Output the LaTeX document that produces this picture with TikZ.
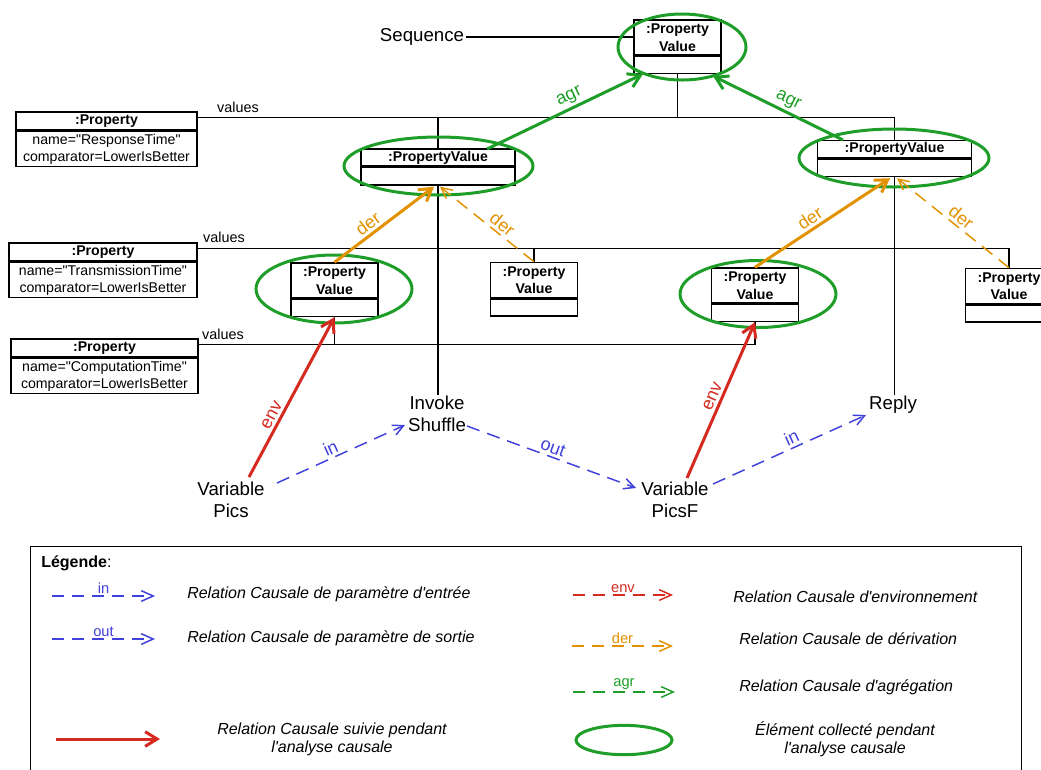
\documentclass[tikz,border=0pt]{standalone}
\usepackage{fontspec}
\setmainfont{Liberation Sans}[Ligatures=TeXOff]
\usetikzlibrary{arrows.meta,shapes.geometric,calc}
\definecolor{cgreen}{RGB}{30,158,40}
\definecolor{corange}{RGB}{226,145,0}
\definecolor{cred}{RGB}{212,42,32}
\definecolor{cblue}{RGB}{64,64,218}
\tikzset{
  umlbox/.style={draw, line width=1.1pt, fill=white, inner sep=1pt, align=center, font=\fontsize{10.6}{13.2}\selectfont\bfseries},
  pvt/.style={umlbox, minimum width=65.25pt, minimum height=26.25pt},
  pvb/.style={draw, line width=1.1pt, fill=white, minimum width=65.25pt, minimum height=12.75pt, inner sep=0pt, anchor=north},
  pvwt/.style={umlbox, minimum width=115.5pt, minimum height=13pt},
  pvwb/.style={pvb, minimum width=115.5pt, minimum height=13pt},
  propt/.style={umlbox, minimum height=13.5pt},
  propb/.style={draw, line width=1.1pt, fill=white, inner sep=1pt, align=center, anchor=north, minimum height=26.25pt, font=\fontsize{10.6}{12.75}\selectfont},
  lbl/.style={font=\fontsize{14}{16.5}\selectfont, align=center, inner sep=1pt},
  vlab/.style={font=\fontsize{10.8}{13}\selectfont, inner sep=0pt},
  link/.style={line width=1pt},
  coll/.style={draw=cgreen, line width=2.25pt, ellipse, inner sep=0pt},
  thickarr/.style={line width=2.25pt, -{Straight Barb[length=9pt,width=11pt]}},
  dasharr/.style={line width=1.1pt, dash pattern=on 10pt off 6pt, -{Straight Barb[length=8pt,width=8pt]}},
  legdash/.style={line width=1.1pt, dash pattern=on 9pt off 6pt, -{Straight Barb[length=9pt,width=8pt]}},
  alab/.style={font=\fontsize{13.5}{15}\selectfont, sloped, above, inner sep=2pt},
  llab/.style={font=\fontsize{11}{13}\selectfont, above, inner sep=1pt},
  ltext/.style={font=\fontsize{12}{13.5}\selectfont\itshape, inner sep=0pt, align=center},
}
\begin{document}
\begin{tikzpicture}[x=0.75pt,y=-0.75pt]
\useasboundingbox (0,0) rectangle (1041,769);

% ---------- Property boxes ----------
\node[propt, minimum width=135.75pt] (PropR) at (106.5,121) {:Property};
\node[propb, minimum width=135.75pt] (PropRb) at (PropR.south) {name="ResponseTime"\\comparator=LowerIsBetter};
\node[propt, minimum width=141pt] (PropT) at (103,252) {:Property};
\node[propb, minimum width=141pt] (PropTb) at (PropT.south) {name="TransmissionTime"\\comparator=LowerIsBetter};
\node[propt, minimum width=140.25pt] (PropC) at (104.5,348) {:Property};
\node[propb, minimum width=140.25pt] (PropCb) at (PropC.south) {name="ComputationTime"\\comparator=LowerIsBetter};

% ---------- PropertyValue boxes ----------
\node[pvt] (PVtop) at (677.5,37.5) {:Property\\Value};
\node[pvb] (PVtopb) at (PVtop.south) {};
\node[pvwt] (PVleft) at (438,157.5) {:PropertyValue};
\node[pvwb] (PVleftb) at (PVleft.south) {};
\node[pvwt] (PVright) at (894.5,149) {:PropertyValue};
\node[pvwb] (PVrightb) at (PVright.south) {};
\node[pvt] (PVa) at (334.5,280.5) {:Property\\Value};
\node[pvb] (PVab) at (PVa.south) {};
\node[pvt] (PVb) at (534,280) {:Property\\Value};
\node[pvb] (PVbb) at (PVb.south) {};
\node[pvt] (PVc) at (755,285.5) {:Property\\Value};
\node[pvb] (PVcb) at (PVc.south) {};
\node[pvt] (PVd) at (1009,286) {:Property\\Value};
\node[pvb] (PVdb) at (PVd.south) {};

% ---------- text nodes ----------
\node[lbl] (Seq) at (422,37) {Sequence};
\node[lbl] (Shuffle) at (437,414) {Invoke\\Shuffle};
\node[lbl] (Reply) at (893,405) {Reply};
\node[lbl] (Pics) at (231,500) {Variable\\Pics};
\node[lbl] (PicsF) at (675,500) {Variable\\PicsF};

\node[vlab] (valR) at (238,107) {values};
\node[vlab] (valT) at (224,237) {values};
\node[vlab] (valC) at (223,334) {values};

% ---------- black links ----------
\draw[link] (Seq.east) -- (Seq.east -| PVtop.west);
\coordinate (vR) at ($(PropR.north east)+(0,6)$);
\draw[link] (vR) -- (vR -| PVright.north) -- (PVright.north);
\draw[link] (PVleft.north) -- (PVleft.north |- vR);
\draw[link] (PVtopb.south) -- (PVtopb.south |- vR);
\coordinate (vT) at ($(PropT.north east)+(0,6)$);
\draw[link] (vT) -- (vT -| PVd.north) -- (PVd.north);
\draw[link] (PVb.north) -- (PVb.north |- vT);
\coordinate (vC) at ($(PropC.north east)+(0,6)$);
\draw[link] (vC) -- (vC -| PVcb.south) -- (PVcb.south);
\draw[link] (PVab.south) -- (PVab.south |- vC);
\draw[link] (PVleftb.south) -- (PVleftb.south |- Shuffle.north);
\draw[link] (PVrightb.south) -- (PVrightb.south |- Reply.north);

% ---------- collected elements ----------
\node[coll, minimum width=96pt, minimum height=49.5pt] (Etop) at (682,47) {};
\node[coll, minimum width=141.75pt, minimum height=43.5pt] (Eleft) at (438.5,166) {};
\node[coll, minimum width=142.5pt, minimum height=43.5pt] (Eright) at (894,158) {};
\node[coll, minimum width=117pt, minimum height=51pt] (Ea) at (334,289) {};
\node[coll, minimum width=117pt, minimum height=50.25pt] (Ec) at (758,294) {};

% ---------- causal arrows ----------
\draw[thickarr, cgreen] ($(PVleft.center)+(49,-8.5)$) -- node[alab, pos=0.56] {agr} ($(PVtop.center)+(-34.5,36.5)$);
\draw[thickarr, cgreen] ($(PVright.center)+(-51.5,-9)$) -- node[alab, pos=0.46] {agr} ($(PVtop.center)+(35.5,38.5)$);
\draw[thickarr, corange] (PVa.north) -- node[alab, pos=0.4] {der} ($(PVleftb.south)+(-4,1)$);
\draw[dasharr, corange] (PVb.north) -- node[alab, pos=0.4] {der} ($(PVleftb.south)+(2,1)$);
\draw[thickarr, corange] (PVc.north) -- node[alab, pos=0.45] {der} ($(PVrightb.south)+(-4.5,1)$);
\draw[dasharr, corange] (PVd.north) -- node[alab, pos=0.48] {der} ($(PVrightb.south)+(2.5,1)$);
\draw[thickarr, cred] ($(Pics.center)+(18,-23)$) -- node[alab, pos=0.36] {env} (PVab.south);
\draw[thickarr, cred] ($(PicsF.center)+(12,-22)$) -- node[alab, pos=0.5] {env} (PVcb.south);
\draw[dasharr, cblue] ($(Pics.center)+(46,-17)$) -- node[alab, pos=0.45] {in} ($(Shuffle.center)+(-32,11)$);
\draw[dasharr, cblue] ($(Shuffle.center)+(30,12)$) -- node[alab, pos=0.49] {out} ($(PicsF.center)+(-39,-12)$);
\draw[dasharr, cblue] ($(PicsF.center)+(38,-16)$) -- node[alab, pos=0.54] {in} ($(Reply.center)+(-27,10)$);

% ---------- legend ----------
\node[draw, line width=1pt, minimum width=743.25pt, minimum height=172.5pt, anchor=north west, inner sep=0pt] (Leg) at (30,546) {};
\node[anchor=west, font=\fontsize{12}{14}\selectfont, inner sep=0pt] (LegT) at (41,563) {\textbf{Légende}:};

\coordinate (l1a) at (52,596); \coordinate (l1b) at (155,596);
\draw[legdash, cblue] (l1a) -- node[llab] {in} (l1b);
\node[ltext, anchor=west] (t1) at (187,594) {Relation Causale de paramètre d'entrée};

\coordinate (l2a) at (52,639); \coordinate (l2b) at (155,639);
\draw[legdash, cblue] (l2a) -- node[llab] {out} (l2b);
\node[ltext, anchor=west] (t2) at (187,638) {Relation Causale de paramètre de sortie};

\coordinate (l3a) at (56,739); \coordinate (l3b) at (160,739);
\draw[thickarr, cred] (l3a) -- (l3b);
\node[ltext] (t3) at (332,739) {Relation Causale suivie pendant\\l'analyse causale};

\coordinate (l4a) at (573,595); \coordinate (l4b) at (673,595);
\draw[legdash, cred] (l4a) -- node[llab] {env} (l4b);
\node[ltext, anchor=west] (t4) at (733,597) {Relation Causale d'environnement};

\coordinate (l5a) at (572,646); \coordinate (l5b) at (673,646);
\draw[legdash, corange] (l5a) -- node[llab] {der} (l5b);
\node[ltext, anchor=west] (t5) at (739,639) {Relation Causale de dérivation};

\coordinate (l6a) at (573,692); \coordinate (l6b) at (675,692);
\draw[legdash, cgreen] (l6a) -- node[llab] {agr} (l6b);
\node[ltext, anchor=west] (t6) at (739,687) {Relation Causale d'agrégation};

\node[coll, minimum width=72pt, minimum height=22pt] (legE) at (624,740) {};
\node[ltext] (t7) at (845,739) {Élément collecté pendant\\l'analyse causale};
\end{tikzpicture}
\end{document}
